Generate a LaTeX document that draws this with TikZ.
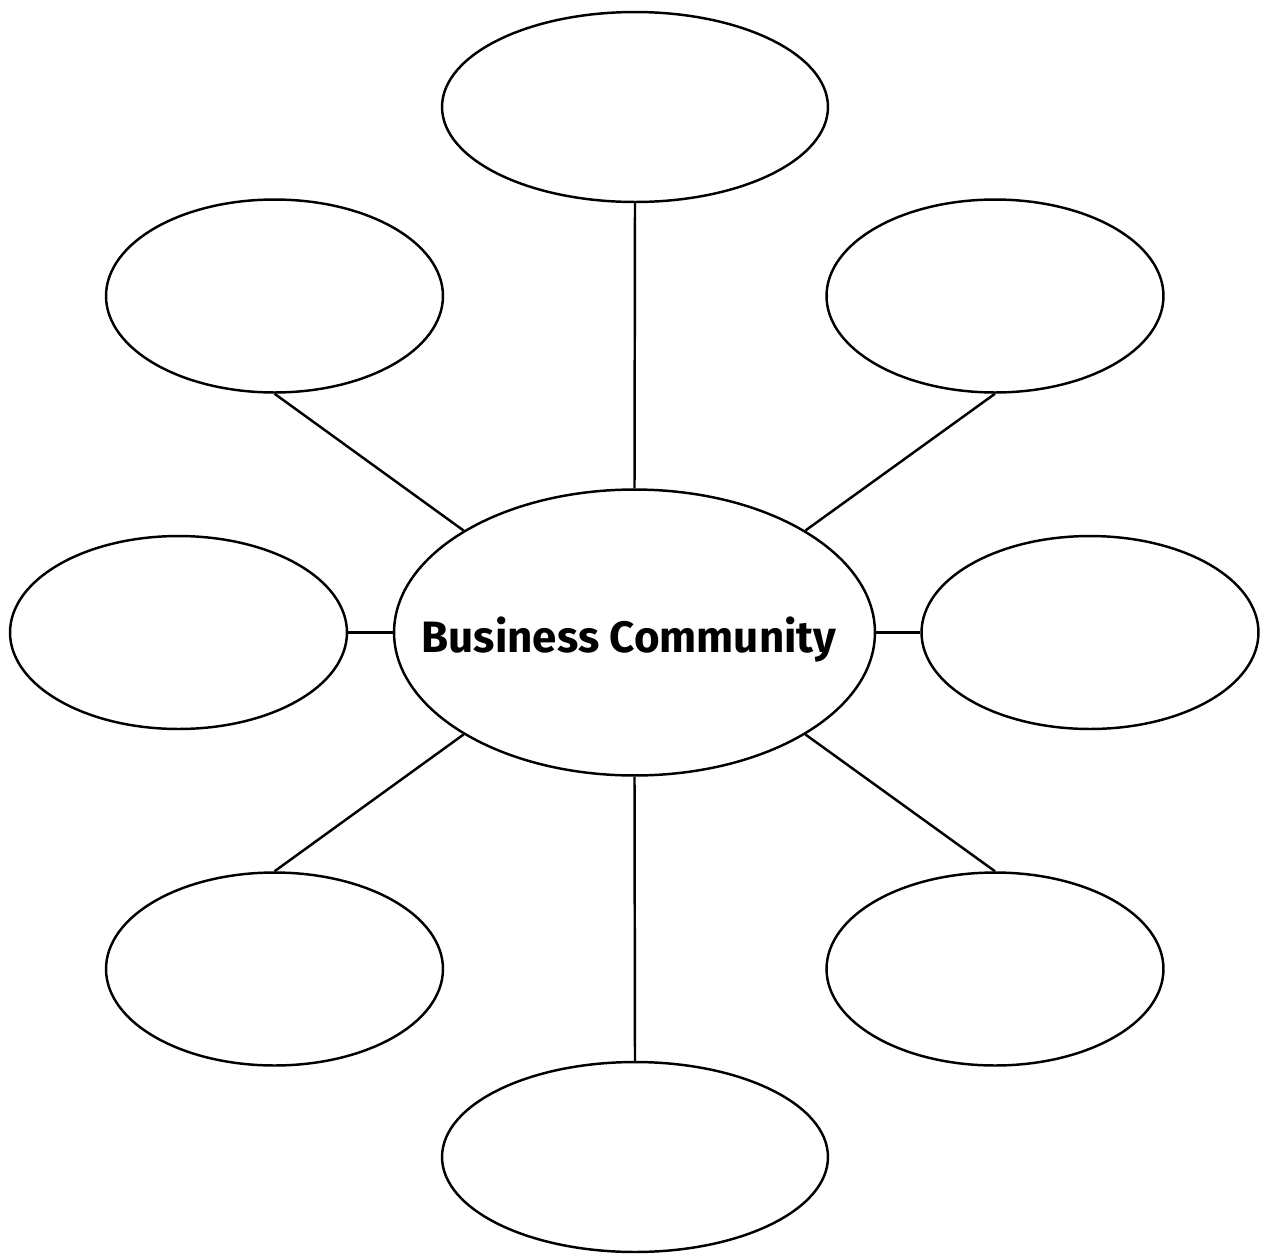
\documentclass[tikz,border=0pt]{standalone}
\usepackage{fontspec}
\setmainfont{Fira Sans}
\usetikzlibrary{shapes.geometric}

\begin{document}
\begin{tikzpicture}[x=0.02cm,y=-0.02cm,
        bubble/.style={draw,ellipse,line width=1.4pt,minimum width=6.74cm,minimum height=3.86cm,inner sep=0pt},
        tall/.style={bubble,minimum width=7.72cm,minimum height=3.8cm},
        hub/.style={bubble,minimum width=9.62cm,minimum height=5.72cm},
        spoke/.style={line width=1.4pt}]
                \useasboundingbox (0,0) rectangle (1262,1258);

                \node[hub] (c) at (634.5,632.5) {};
                \node[font=\bfseries\fontsize{25}{30}\selectfont] (title) at (629,640) {Business Community};

                \node[tall] (top) at (635,107) {};
                \node[tall] (bot) at (635,1157) {};
                \node[bubble] (ul) at (274.5,296) {};
                \node[bubble] (ur) at (995,296) {};
                \node[bubble] (l) at (178.5,632.5) {};
                \node[bubble] (r) at (1090,632.5) {};
                \node[bubble] (ll) at (274.5,969) {};
                \node[bubble] (lr) at (995,969) {};

                \draw[spoke] (top.south) -- (c.north);
                \draw[spoke] (bot.north) -- (c.south);
                \draw[spoke] (l.east) -- (c.west);
                \draw[spoke] (r.west) -- (c.east);
                \foreach \a/\b in {ul/north west,ur/north east}{
                    \draw[spoke] (\a.south) -- (c.\b);
                }
                \foreach \a/\b in {ll/south west,lr/south east}{
                    \draw[spoke] (\a.north) -- (c.\b);
                }
            \end{tikzpicture}
\end{document}
